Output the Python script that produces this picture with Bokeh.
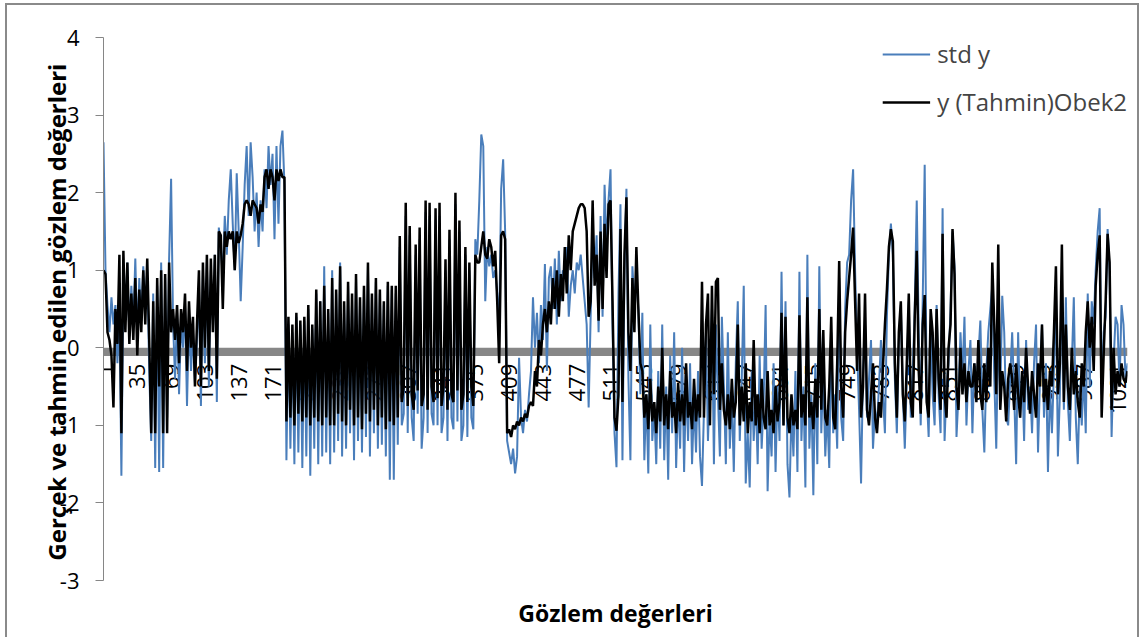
from math import pi
from bokeh.plotting import figure
from bokeh.models import Range1d, FixedTicker, BoxAnnotation
from bokeh.core.properties import value
from bokeh.embed import file_html
from bokeh.resources import INLINE

# observations sampled every second index (1, 3, 5, ... 1031)
std_y = [
    2.65, 1.0, 0.55, 0.2, 0.65, 0.3, 0.55, -0.2, 0.5, -1.65, 0.9, 0.4, 1.1, 0.15, 0.8, 0.3, 1.15, 0.1, 0.9, 0.35, 1.05,
    0.5, 1.0, -0.3, -1.2, 0.7, -1.55, 0.8, -1.6, 1.1, -1.55, 0.9, -0.9, 1.15, 2.18,
    0.3, -0.4, 0.45, -0.6, 0.3, 0.0, 0.55, -0.75, 0.4, -0.3, 0.2, -0.45,
    0.1, 0.8, -0.75, 1.0, -0.2, 1.1, -0.5, 1.0, 0.3, 1.2, -0.7,
    1.55, 1.3, 0.9, 1.7, 1.2, 1.9, 2.3, 1.6, 1.0, 2.25, 1.5, 0.6,
    1.3, 2.1, 2.6, 1.7, 2.65, 2.2, 1.5, 2.0, 1.3, 1.9, 1.5,
    2.3, 1.8, 2.6, 2.1, 2.5, 1.4, 2.6, 1.6, 2.6, 2.8, 2.1,
    -1.45, 0.3, -1.3, 0.2, -1.5, 0.4, -1.35, 0.3, -1.55, 0.35, -1.4, 0.5, -1.65, 0.25, -1.3, 0.7, -1.5, 0.6, -1.4, 1.05, -1.35, 0.45, -1.5,
    1.0, -1.35, 0.7, -1.2, 1.1, -1.4, 0.55, -1.3, 0.8, -1.1, 0.6, -1.45, 0.9, -1.2, 0.6, -1.35, 0.75, -1.15, 1.05, -1.4,
    0.65, -1.1, 0.85, -1.3, 0.7, -1.25, 0.55, -1.4, 0.8, -1.7, 0.75, -1.7, 0.7, -1.25,
    1.3, -1.0, -0.85, 1.7, -1.1, 1.45, -0.9, -1.2, 1.2, -0.85, 1.4, -1.3, -0.9, 1.75, -1.1, 1.7, -0.85, -1.0, 1.65, -1.0,
    1.7, -1.1, -0.9, 1.0, -1.2, 1.4, -0.9, -1.05, 1.85, -0.95, 1.5, -1.2, -1.0, 1.2, -1.15, 1.0, -0.9, -1.05, 1.4, 1.2,
    1.9, 2.75, 2.6, 0.6, 1.3, 1.05, 1.2, 0.9, 1.0, 0.7, 0.3, 2.05, 2.43, 1.5,
    -1.2, -1.35, -1.5, -1.3, -1.62, -1.4, -0.13, -0.9, -1.1, -0.8, -0.95, -0.6, -0.3,
    0.65, 0.0, 0.45, -0.2, 0.55, 0.1, 1.08, -0.3, 0.9,
    1.05, 0.5, 1.15, 0.3, 1.25, 0.6, 1.0, 0.9, 1.3, 0.4, 0.8,
    1.0, 0.7, 1.1, 1.0, 1.2, 0.9, 0.6, 0.3, -0.77, 0.4,
    1.5, 0.9, 1.45, 0.2, 1.7, 0.4, 2.1, 1.3, 1.9, 2.3, 0.3,
    -1.1, -1.54, 0.7, 1.85, -1.45, 1.0, 2.05, -0.4, -1.45, 1.05, 0.6, 0.9, 0.5, -0.6,
    0.45, -1.45, -0.6, -1.62, 0.3, -1.2, -0.8, -1.5, -0.3, -1.3, 0.3, -1.45, -0.5, -1.7, -0.1,
    -1.1, 0.2, -1.55, -0.6, -1.3, 0.0, -1.6, -0.4, -1.2, -0.2, -1.5, -0.7, -1.35, -0.3, -1.4,
    -1.78, -0.8, 0.2, -1.2, -0.4, 0.5, -1.5, 0.3, -0.6, -1.4, 0.4,
    -0.5, -1.5, 0.2, -1.3, -0.6, -1.6, -0.2, 0.6, -1.2, -0.4, 0.8, -1.75, -1.1, -1.8, -0.3, -1.2, -0.6, -1.5, -0.1, -1.3,
    -0.7, 0.55, -1.85, -0.9, -1.4, -0.2, -1.6, -0.5, -1.2, 0.98, -1.0, 0.6, -1.5, -1.93, -0.8, -1.4, -0.3, -1.6, 0.98, -1.2,
    -0.5, -1.8, 1.2, -1.3, -0.6, -1.9, -0.2, -1.5, 1.05, -1.1,
    -0.3, -1.4, -0.8, -1.55, 0.2, -1.1, -0.6, -1.3, 0.9, -0.9, -1.2, 0.5, 1.1,
    1.2, 1.9, 2.3, 1.0, 0.0, -0.8, -1.75, -0.3, 0.3, -0.9, -0.4, 0.1, -1.3, -0.8, -1.0, -0.5, 0.1, -0.6, -1.1, 0.4, 1.2,
    1.6, 1.2, -0.4, -1.1, 0.1, 0.55, -0.6, -1.3, -0.4, 0.6, -0.9, -0.3, 0.5, 1.9, 0.2, -1.0, 0.6, 2.36, -0.6, -1.15, 0.3,
    -0.6, -1.0, 0.55, -0.6, -1.1, 1.8, -1.2, -0.5, -0.2, 0.5, 1.5, 1.05, -1.15, -0.6, 0.2, -0.4, 0.4, -1.0, -0.3, 0.1,
    -1.1, -0.2, -0.6, -0.1, 0.35, -0.8, -1.35, -0.3, 0.2, 0.5, 0.8, -0.4, -1.3, 0.3, -0.6, 0.67, 0.2, -0.9, -1.0, -0.4,
    0.2, -0.6, -1.5, 0.2, -0.9, -0.3, -1.2, 0.1, -0.8, -0.5, -1.1, -0.2, 0.3, -1.35, -0.4, 0.3, -0.9, -0.2, -1.6, -0.5,
    -1.1, -0.3, 0.8, -1.4, -0.6, 0.9, -0.8, 0.65, -0.7, -1.2, -0.2, 0.65, -0.9, -1.5, -0.5, -1.0, -0.3, -1.1, 0.7,
    -0.5, 0.6, 0.3, 1.0, 1.5, 1.8, -0.6, 0.2, 0.4, 1.53, 1.0, -1.15, -0.2, 0.4, 0.3, -0.5, 0.55, 0.3, -0.4, -0.2,
]

tahmin_obek2 = [
    1.0, 0.95, 0.2, 0.1, -0.1, -0.77, 0.5, 0.05, 1.2, -1.1, 1.25, 0.2, 1.1, 0.05, 0.7, 0.1, 0.9, -0.1, 0.75, 0.2, 1.0,
    0.3, 1.15, 0.1, -1.1, 0.6, -1.1, 0.9, -0.5, 1.0, -1.1, 0.95, -1.1, 1.1, 0.2,
    0.5, 0.1, 0.55, -0.2, 0.5, 0.2, 0.7, -0.3, 0.6, 0.0, 0.4, -0.5,
    0.3, 1.0, -0.5, 1.1, 0.0, 1.2, -0.3, 1.15, 0.2, 1.2, -0.4,
    1.5, 1.45, 0.5, 1.5, 1.3, 1.5, 1.4, 1.5, 1.0, 1.5, 1.35, 1.45,
    1.6, 1.85, 1.9, 1.85, 1.7, 1.9, 1.85, 1.8, 1.6, 1.85, 1.75,
    2.2, 2.3, 2.05, 2.3, 2.2, 1.9, 2.3, 2.15, 2.3, 2.2, 2.2,
    -0.95, 0.4, -0.9, 0.3, -1.0, 0.45, -0.85, 0.35, -0.95, 0.4, -0.9, 0.55, -1.0, 0.3, -0.9, 0.75, -0.95, 0.6, -1.0, 0.8, -0.9, 0.5, -1.0,
    0.9, -1.0, 0.75, -0.85, 1.05, -0.95, 0.6, -1.0, 0.85, -0.8, 0.7, -1.0, 0.95, -0.9, 0.65, -1.05, 0.8, -0.85, 1.1, -0.95,
    0.7, -0.8, 0.9, -1.0, 0.75, -0.9, 0.6, -1.05, 0.85, -0.95, 0.8, -1.0, 0.8, -0.9,
    1.44, -0.7, -0.5, 1.87, -0.75, 1.57, -0.6, -0.8, 1.33, -0.55, 1.55, -0.75, -0.6, 1.9, -0.8, 1.87, -0.5, -0.7, 1.8, -0.65,
    1.87, -0.75, -0.5, 1.14, -0.8, 1.52, -0.6, -0.7, 2.0, -0.55, 1.64, -0.8, -0.6, 1.3, -0.7, 1.1, -0.5, -0.75, 1.2, 1.1,
    1.1, 1.3, 1.5, 1.2, 1.15, 1.4, 1.3, 1.05, 1.25, 0.6, -0.2, 1.45, 1.5, 1.4,
    -1.1, -1.05, -1.15, -1.0, -1.05, -0.95, -1.0, -0.9, -0.95, -0.85, -0.9, -0.75, -0.7,
    -0.75, -0.3, -0.5, 0.1, -0.1, 0.3, 0.5, 0.2, 0.6,
    0.3, 0.9, 0.5, 1.0, 0.4, 0.95, 0.6, 1.3, 0.7, 1.45, 1.0,
    1.5, 1.6, 1.7, 1.8, 1.85, 1.85, 1.8, 1.5, 0.4, 0.6,
    1.9, 0.8, 1.2, 0.35, 1.5, 0.5, 1.6, 0.9, 1.85, 1.9, 0.6,
    -0.9, -1.07, -0.6, 1.53, -0.7, 1.2, 1.94, 0.2, -0.3, 0.9, 0.2, 1.3, 0.5, -0.2,
    -0.3, -0.9, -0.6, -1.05, -0.4, -0.95, -0.7, -1.1, -0.5, -0.95, 0.0, -1.0, -0.6, -1.05, -0.3,
    -0.9, -0.7, -1.1, -0.45, -0.95, -0.6, -1.0, -0.2, -0.9, -0.7, -1.05, -0.4, -0.95, -0.6, -0.9,
    0.85, -0.9, 0.3, 0.7, -1.0, 0.8, -0.6, 0.85, 0.9, -0.8, -0.2,
    -0.8, -1.0, -0.6, -1.05, -0.4, -0.9, -0.7, 0.3, -1.0, -0.5, -0.95, -0.2, -1.1, -0.7, -0.95, 0.1, -1.0, -0.6, -1.1, -0.4,
    -0.9, -1.05, -0.3, -1.0, -0.8, -1.1, -0.5, -0.95, -0.7, 0.45, -1.0, 0.4, -0.9, -1.1, -0.6, -1.0, -0.8, -1.05, 0.42, -0.9,
    -0.6, -1.0, 0.65, -0.9, -0.7, -1.05, -0.4, -0.9, 0.5, -0.8,
    0.23, -0.9, -1.0, -0.5, 0.4, -0.9, -1.05, -0.2, 1.12, -0.5, -0.9, 0.2, 0.6,
    0.9, 1.2, 1.55, 0.6, -0.3, 0.7, -0.9, -0.5, 0.7, -0.8, -1.0, -0.6, -0.2, -0.9, -1.1, -0.7, -0.9, -0.25, 0.3, 0.75, 1.3,
    1.53, 1.37, -0.2, -0.9, 0.2, 0.6, -0.6, -0.95, -0.2, 0.7, -0.7, -0.9, 0.4, 1.25, -0.3, -0.85, 0.3, 0.68, -0.7, -0.9, 0.5,
    0.2, -0.7, 0.5, -0.4, -0.8, 1.47, -0.6, -0.9, 0.0, 0.3, 1.53, 0.95, -0.5, -0.8, 0.0, -0.6, -0.2, -0.7, -0.3, -0.5,
    -0.5, -0.2, -0.7, 0.1, -0.6, -0.8, -0.2, -0.7, 0.0, -0.5, 1.1, 0.3, -0.6, 1.33, -0.8, -0.3, -0.5, -0.95, -0.4, -0.2,
    -0.4, -0.8, -0.2, -0.6, -0.9, -0.3, -0.7, 0.0, -0.5, -0.85, -0.3, -0.6, -0.9, -0.2, -0.5, 0.3, -0.7, -0.4, -0.8, -0.3,
    -0.5, 0.2, 1.05, -0.6, -0.2, 1.33, -0.7, 0.3, -0.5, -0.8, 0.0, -0.6, -0.3, -0.7, -0.9, -0.2, -0.5, 0.2, 0.6,
    0.0, 0.4, -0.3, 0.8, 1.2, 1.45, -0.9, -0.1, 0.6, 1.47, 1.1, -0.8, 0.0, -0.6, -0.3, -0.5, -0.2, -0.4, -0.45, -0.3,
]

x_tick_labels = [1, 35, 69, 103, 137, 171, 205, 239, 273, 307, 341, 375, 409, 443, 477, 511,
                 545, 579, 613, 647, 681, 715, 749, 783, 817, 851, 885, 919, 953, 987, 1021]
y_ticks = [-3, -2, -1, 0, 1, 2, 3, 4]

obs_std = list(range(1, 2 * len(std_y), 2))
obs_tah = list(range(1, 2 * len(tahmin_obek2), 2))

FONT = "Open Sans"

p = figure(width=1134, height=634, output_backend="svg", toolbar_location=None,
           x_range=Range1d(1, 1031), y_range=Range1d(-3, 4),
           min_border_left=96, min_border_right=14, min_border_top=32, min_border_bottom=59)
p.margin = (3, 0, 0, 5)
p.styles = {"border-left": "2px solid #8a8a8a", "border-top": "2px solid #8a8a8a",
            "border-right": "2px solid #8a8a8a"}
p.background_fill_color = "white"
p.border_fill_color = "white"
p.outline_line_color = None
p.xgrid.visible = False
p.ygrid.visible = False

# y axis
p.yaxis.ticker = FixedTicker(ticks=y_ticks)
p.yaxis.major_label_overrides = {t: str(t) for t in y_ticks}
p.yaxis.minor_tick_line_color = None
p.yaxis.major_tick_in = 0
p.yaxis.major_tick_out = 8
p.yaxis.axis_line_color = "#868686"
p.yaxis.major_tick_line_color = "#868686"
p.yaxis.major_label_text_font = FONT
p.yaxis.major_label_text_font_size = "22px"
p.yaxis.major_label_text_color = "black"
p.yaxis.major_label_standoff = 16
p.yaxis.axis_label = "Gerçek ve tahmin edilen  gözlem değerleri"
p.yaxis.axis_label_text_font = FONT
p.yaxis.axis_label_text_font_style = "bold"
p.yaxis.axis_label_text_font_size = "24px"
p.yaxis.axis_label_text_color = "black"
p.yaxis.axis_label_standoff = -16

# x axis (title only, tick labels drawn at y = 0)
p.xaxis.ticker = FixedTicker(ticks=[])
p.xaxis.axis_line_color = None
p.xaxis.major_tick_line_color = None
p.xaxis.minor_tick_line_color = None
p.xaxis.axis_label = "Gözlem değerleri"
p.xaxis.axis_label_text_font = FONT
p.xaxis.axis_label_text_font_style = "bold"
p.xaxis.axis_label_text_font_size = "23px"
p.xaxis.axis_label_text_color = "black"
p.xaxis.axis_label_standoff = 16

# thick gray horizontal axis line at zero
p.add_layout(BoxAnnotation(top=0, bottom=-0.105, fill_color="#878787", fill_alpha=1.0,
                           line_color=None, level="underlay"))

# category labels along the zero line
p.text(x=x_tick_labels, y=[0] * len(x_tick_labels), text=[str(v) for v in x_tick_labels],
       angle=pi / 2, text_align="right", text_baseline="middle", y_offset=16,
       text_font=value(FONT), text_font_size="22px", text_color="black")

p.line(obs_std, std_y, line_color="#4a7ebb", line_width=2, legend_label="std y")
p.line(obs_tah, tahmin_obek2, line_color="black", line_width=2.5, legend_label="y (Tahmin)Obek2")

p.legend.location = "top_right"
p.legend.margin = 0
p.legend.padding = 0
p.legend.spacing = 15
p.legend.glyph_width = 48
p.legend.label_standoff = 7
p.legend.border_line_color = None
p.legend.background_fill_alpha = 0
p.legend.label_text_font = FONT
p.legend.label_text_font_size = "24px"

open("out.html", "w").write(file_html(p, INLINE))
